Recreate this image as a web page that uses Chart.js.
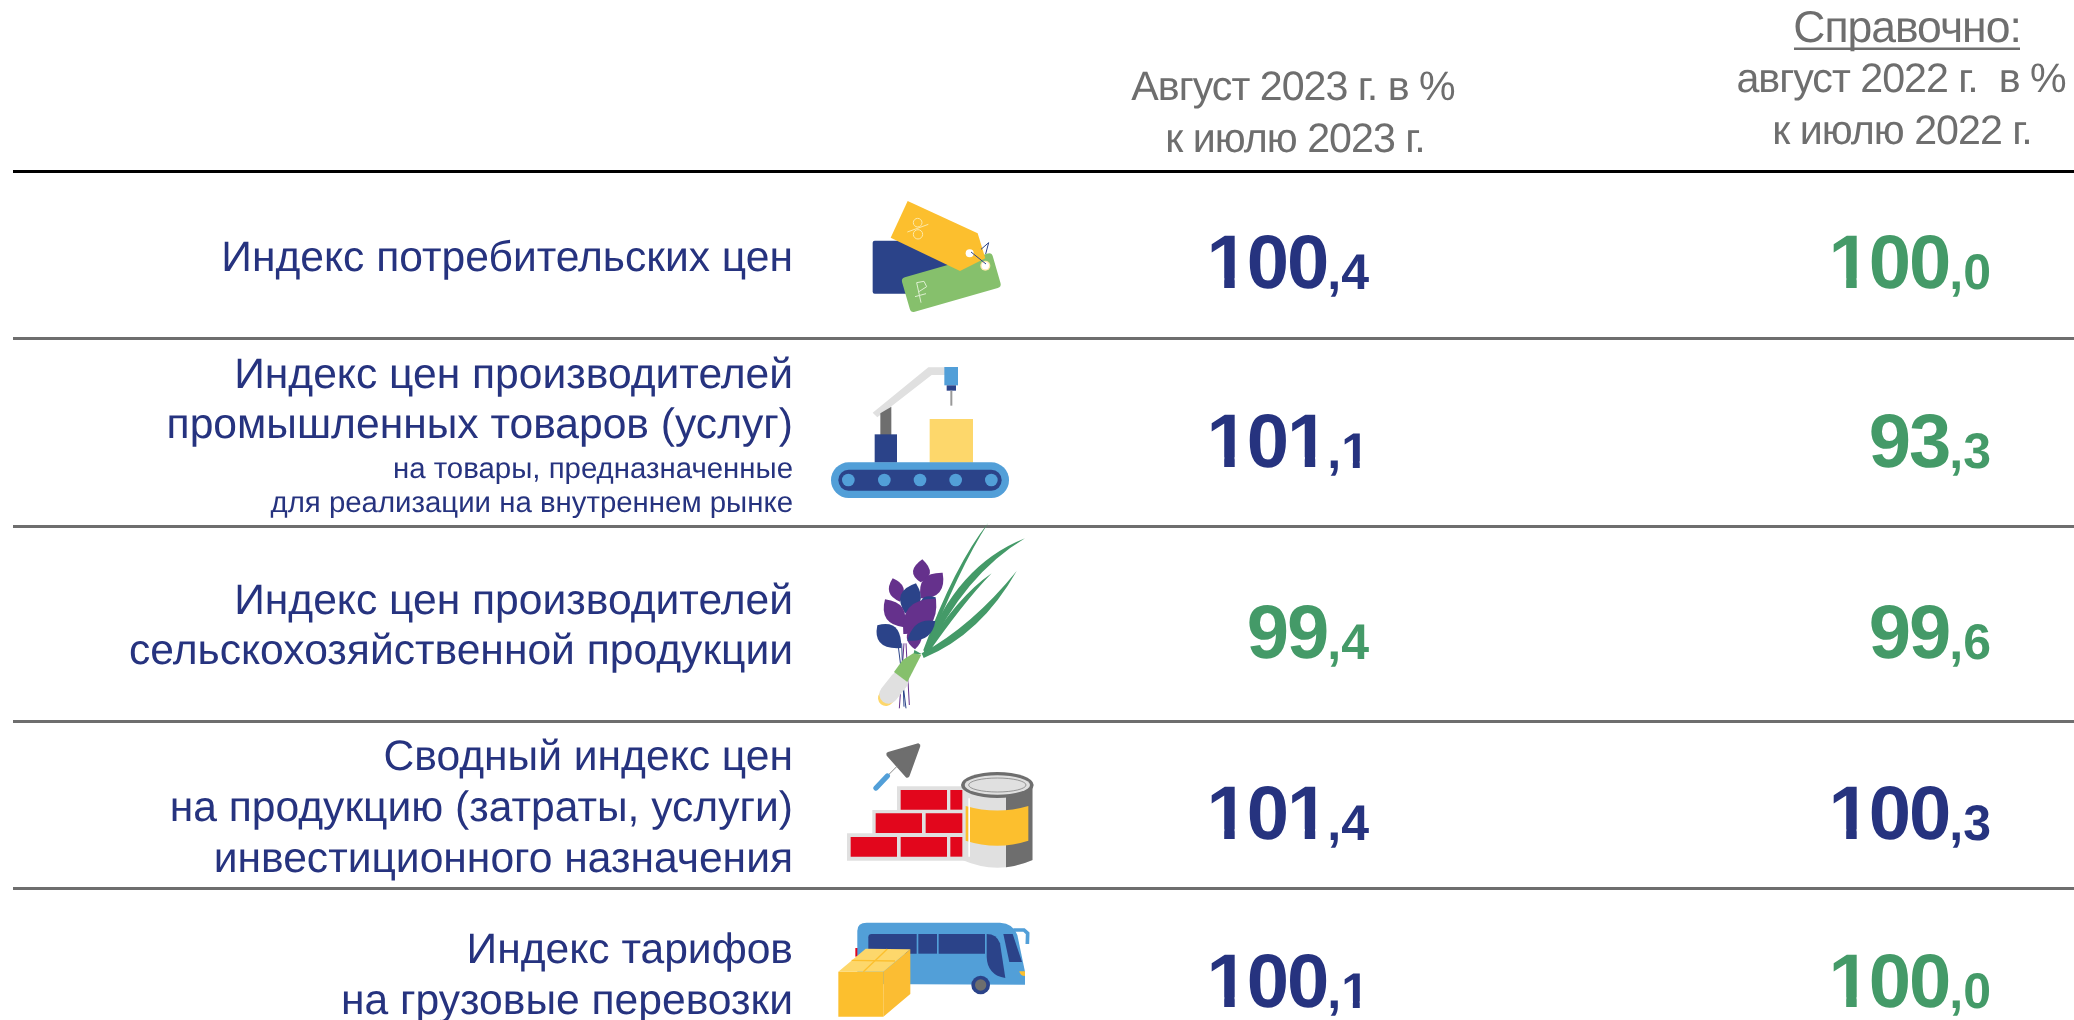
<!DOCTYPE html>
<html>
<head>
<meta charset="utf-8">
<script src="https://cdn.jsdelivr.net/npm/chart.js@4/dist/chart.umd.js"></script>
<style>
  html, body { margin: 0; background: #fff; }
  canvas { display: block; }
</style>
</head>
<body>
<canvas id="myChart" width="2074" height="1020"></canvas>
<script>
var rowLabels = [
  [['Индекс потребительских цен', 0]],
  [['Индекс цен производителей', 0], ['промышленных товаров (услуг)', 0], ['на товары, предназначенные', 1], ['для реализации на внутреннем рынке', 1]],
  [['Индекс цен производителей', 0], ['сельскохозяйственной продукции', 0]],
  [['Сводный индекс цен', 0], ['на продукцию (затраты, услуги)', 0], ['инвестиционного назначения', 0]],
  [['Индекс тарифов', 0], ['на грузовые перевозки', 0]]
];
var aug2023 = [100.4, 101.1, 99.4, 101.4, 100.1];
var aug2022 = [100.0, 93.3, 99.6, 100.3, 100.0];
var highlight2023 = [false, false, true, false, false];
var highlight2022 = [true, true, true, false, true];

// layout, in page pixels
var ruleY = [171, 338, 526.5, 721, 888];
var valueBase = [288, 467, 658, 839, 1007];
var labelBase = [[271], [388, 438, 478, 512], [614, 664], [770, 821, 872], [963, 1014]];
var colRight = [1369, 1991];

var NAVY = '#26337f', GREEN = '#449a68', GRAY = '#6e6e6e';
var I_NAVY = '#2b4389', I_BLUE = '#529fd8', I_YEL = '#fcbf2e', I_PALE = '#fdd76b', I_LIGHT = '#e0e0e0', I_GRN = '#86c06c', I_PUR = '#65318c', I_RED = '#e2061c';
var SANS = '"Liberation Sans", Arial, sans-serif';

function poly(c, pts, fill) {
  c.beginPath();
  pts.forEach(function (p, i) { i ? c.lineTo(p[0], p[1]) : c.moveTo(p[0], p[1]); });
  c.closePath();
  c.fillStyle = fill;
  c.fill();
}
function rect(c, x1, y1, x2, y2, fill, r) {
  c.beginPath();
  c.roundRect(x1, y1, x2 - x1, y2 - y1, r || 0);
  c.fillStyle = fill;
  c.fill();
}
function disc(c, x, y, r, fill) {
  c.beginPath();
  c.arc(x, y, r, 0, Math.PI * 2);
  c.fillStyle = fill;
  c.fill();
}
function stroke(c, pts, color, w) {
  c.beginPath();
  pts.forEach(function (p, i) { i ? c.lineTo(p[0], p[1]) : c.moveTo(p[0], p[1]); });
  c.strokeStyle = color;
  c.lineWidth = w;
  c.stroke();
}
// lens shape between two points, belly pulled towards the base by k
function leaf(c, x1, y1, x2, y2, b, fill, k) {
  var dx = x2 - x1, dy = y2 - y1, l = Math.hypot(dx, dy);
  var nx = -dy / l, ny = dx / l;
  var mx = x1 + dx * k, my = y1 + dy * k;
  b = b * 1.7;
  c.beginPath();
  c.moveTo(x1, y1);
  c.quadraticCurveTo(mx + nx * b, my + ny * b, x2, y2);
  c.quadraticCurveTo(mx - nx * b, my - ny * b, x1, y1);
  c.fillStyle = fill;
  c.fill();
}
function blade(c, x1, y1, cx, cy, x2, y2, w, fill) {
  c.beginPath();
  c.moveTo(x1, y1);
  c.quadraticCurveTo(cx - w, cy - w, x2, y2);
  c.quadraticCurveTo(cx + w, cy + w, x1 + 6, y1 + 14);
  c.closePath();
  c.fillStyle = fill;
  c.fill();
}

function iconTags(c) {
  rect(c, 218, 152, 460, 311, I_NAVY, 6);
  c.save();
  c.translate(303, 265);
  c.rotate(Math.atan2(187 - 265, 575 - 303));
  rect(c, 0, 0, 283, 108, I_GRN, 12);
  c.restore();
  poly(c, [[323, 33], [533, 130], [556, 205], [480, 243], [272, 143]], I_YEL);
  disc(c, 556, 227, 15, '#fde9a8');
  disc(c, 556, 227, 11, '#fff');
  disc(c, 509, 190, 12, '#fff');
  stroke(c, [[513, 186], [558, 222]], I_NAVY, 3);
  stroke(c, [[543, 178], [566, 158], [557, 192]], I_NAVY, 3);
  c.lineWidth = 3;
  c.strokeStyle = '#fde9a8';
  stroke(c, [[322, 126], [385, 103]], '#fde9a8', 3);
  c.beginPath(); c.arc(353, 98, 13, 0, Math.PI * 2); c.stroke();
  c.beginPath(); c.arc(354, 133, 14, 0, Math.PI * 2); c.stroke();
  stroke(c, [[363, 338], [350, 278], [372, 274], [380, 290], [355, 306]], '#dff0d2', 3);
  stroke(c, [[345, 320], [378, 311]], '#dff0d2', 3);
}

function iconBelt(c) {
  poly(c, [[218, 668], [385, 532], [435, 532], [435, 555], [395, 555], [232, 682]], I_LIGHT);
  poly(c, [[241, 670], [274, 650], [274, 735], [241, 735]], GRAY);
  rect(c, 224, 733, 291, 818, I_NAVY);
  rect(c, 433, 531, 474, 586, I_BLUE);
  rect(c, 440, 586, 468, 602, I_NAVY);
  rect(c, 451, 602, 457, 647, '#999');
  rect(c, 389, 687, 519, 818, I_PALE);
  rect(c, 93, 817, 627, 924, I_BLUE, 53);
  rect(c, 115, 839, 605, 902, I_NAVY, 31);
  [145, 253, 360, 467, 574].forEach(function (x) { disc(c, x, 870, 19, I_BLUE); });
}

function iconPlant(c) {
  [[[312, 400], [298, 595]], [[305, 400], [312, 590]], [[318, 400], [328, 585]], [[295, 410], [318, 595]]].forEach(function (s, i) {
    stroke(c, s, i % 2 ? I_NAVY : I_PUR, 3);
  });
  blade(c, 370, 420, 470, 170, 565, 38, 6, GREEN);
  blade(c, 372, 425, 480, 180, 675, 85, 13, GREEN);
  blade(c, 372, 425, 480, 270, 575, 190, 9, GREEN);
  blade(c, 365, 430, 530, 360, 650, 183, 13, GREEN);
  leaf(c, 367, 148, 362, 217, 30, I_PUR, 0.6);
  leaf(c, 278, 205, 300, 275, 26, I_PUR, 0.5);
  leaf(c, 428, 188, 362, 265, 36, I_PUR, 0.5);
  leaf(c, 348, 220, 315, 310, 36, I_NAVY, 0.5);
  leaf(c, 407, 262, 360, 300, 26, I_NAVY, 0.5);
  leaf(c, 255, 268, 312, 352, 34, I_PUR, 0.5);
  leaf(c, 408, 266, 310, 372, 48, I_PUR, 0.5);
  leaf(c, 340, 345, 345, 418, 26, I_PUR, 0.5);
  leaf(c, 232, 346, 304, 414, 38, I_NAVY, 0.4);
  leaf(c, 406, 333, 322, 392, 28, I_NAVY, 0.45);
  poly(c, [[343, 420], [365, 432], [340, 435]], GREEN);
  c.save();
  c.lineCap = 'round';
  stroke(c, [[258, 564], [290, 525]], I_PALE, 48);
  stroke(c, [[266, 553], [298, 512]], I_LIGHT, 56);
  c.restore();
  poly(c, [[340, 430], [364, 434], [322, 516], [282, 486], [308, 450]], I_GRN);
}

function iconBuild(c) {
  c.save();
  c.lineJoin = 'round';
  c.lineWidth = 14;
  c.strokeStyle = GRAY;
  c.beginPath();
  c.moveTo(354, 707); c.lineTo(266, 733); c.lineTo(322, 796); c.closePath();
  c.stroke();
  c.fillStyle = GRAY;
  c.fill();
  c.restore();
  stroke(c, [[292, 768], [258, 802]], '#888', 3);
  c.save();
  c.lineCap = 'round';
  stroke(c, [[262, 798], [228, 834]], I_BLUE, 16);
  c.restore();
  rect(c, 291, 829, 500, 905, I_LIGHT);
  rect(c, 217, 900, 500, 975, I_LIGHT);
  rect(c, 141, 970, 500, 1052, I_LIGHT);
  [[302, 840, 441, 899], [451, 840, 495, 899], [227, 910, 366, 969], [377, 910, 495, 969], [152, 981, 291, 1040], [302, 981, 441, 1040], [451, 981, 495, 1040]].forEach(function (b) {
    rect(c, b[0], b[1], b[2], b[3], I_RED);
  });
  // can body
  c.beginPath();
  c.moveTo(487, 825); c.lineTo(487, 1050);
  c.quadraticCurveTo(592, 1096, 698, 1050);
  c.lineTo(698, 825); c.closePath();
  c.fillStyle = I_LIGHT;
  c.fill();
  c.save();
  c.clip();
  rect(c, 618, 830, 698, 1080, GRAY);
  c.restore();
  c.beginPath();
  c.moveTo(497, 888); c.quadraticCurveTo(592, 915, 685, 888);
  c.lineTo(685, 992); c.quadraticCurveTo(592, 1022, 497, 992);
  c.closePath();
  c.fillStyle = I_YEL;
  c.fill();
  rect(c, 505, 865, 510, 1040, '#fff');
  c.beginPath(); c.ellipse(592, 825, 109, 39, 0, 0, Math.PI * 2); c.fillStyle = GRAY; c.fill();
  c.beginPath(); c.ellipse(592, 825, 98, 29, 0, 0, Math.PI * 2); c.fillStyle = I_LIGHT; c.fill();
  c.beginPath(); c.ellipse(592, 825, 86, 21, 0, 0, Math.PI * 2); c.strokeStyle = GRAY; c.lineWidth = 2; c.stroke();
}

function iconBus(c) {
  rect(c, 166, 1314, 174, 1340, I_RED);
  c.beginPath();
  c.moveTo(172, 1422); c.lineTo(172, 1262);
  c.quadraticCurveTo(172, 1238, 200, 1238);
  c.lineTo(600, 1238);
  c.quadraticCurveTo(640, 1240, 652, 1275);
  c.lineTo(675, 1385); c.lineTo(675, 1424);
  c.closePath();
  c.fillStyle = I_BLUE;
  c.fill();
  rect(c, 205, 1272, 350, 1331, I_NAVY, [10, 0, 0, 0]);
  rect(c, 355, 1272, 411, 1331, I_NAVY);
  rect(c, 416, 1272, 555, 1331, I_NAVY);
  c.beginPath();
  c.moveTo(560, 1272);
  c.quadraticCurveTo(590, 1272, 600, 1300);
  c.lineTo(616, 1404);
  c.quadraticCurveTo(562, 1395, 560, 1340);
  c.closePath();
  c.fillStyle = I_NAVY;
  c.fill();
  poly(c, [[610, 1272], [638, 1272], [666, 1356], [628, 1356]], I_NAVY);
  stroke(c, [[640, 1260], [672, 1260], [683, 1270], [682, 1302]], I_BLUE, 11);
  c.beginPath();
  c.moveTo(658, 1384); c.lineTo(675, 1384); c.lineTo(675, 1398);
  c.quadraticCurveTo(660, 1398, 658, 1384);
  c.fillStyle = I_YEL;
  c.fill();
  disc(c, 542, 1425, 28, I_NAVY);
  disc(c, 542, 1425, 17, GRAY);
  poly(c, [[115, 1385], [250, 1385], [250, 1520], [115, 1520]], I_YEL);
  poly(c, [[250, 1385], [331, 1318], [331, 1452], [250, 1520]], '#fbbd33');
  poly(c, [[115, 1385], [197, 1316], [331, 1318], [250, 1385]], I_PALE);
  stroke(c, [[155, 1351], [285, 1353]], I_YEL, 4);
  stroke(c, [[262, 1317], [190, 1385]], I_YEL, 4);
}

// icons are traced in 3x coordinates of two crops of the page
var icons = [
  [iconTags, 800, 190], [iconBelt, 800, 190], [iconPlant, 800, 510], [iconBuild, 800, 510], [iconBus, 800, 510]
];

function text(c, str, x, y, font, color, align, spacing) {
  c.font = font;
  c.fillStyle = color;
  c.textAlign = align;
  c.textBaseline = 'alphabetic';
  c.letterSpacing = (spacing || 0) + 'px';
  c.fillText(str, x, y);
  c.letterSpacing = '0px';
}

// right-aligned digits, returns the left edge. Liberation's bold 1 has a foot, the reference's has none
function digits(c, str, right, y, size, color, spacing) {
  c.font = 'bold ' + size + 'px ' + SANS;
  c.fillStyle = color;
  c.textAlign = 'left';
  c.textBaseline = 'alphabetic';
  var x = right;
  str.split('').reverse().forEach(function (ch) {
    x -= c.measureText(ch).width + spacing;
    if (ch === '1') {
      var footTop = Math.round(y - size * 0.102) - 2;
      c.save();
      c.beginPath();
      c.rect(x - 2, y - size, size, footTop - (y - size));
      c.rect(x + size * 0.233, footTop, size * 0.138, size);
      c.clip();
      c.fillText(ch, x, y);
      c.restore();
    } else {
      c.fillText(ch, x, y);
    }
  });
  return x;
}

var tablePlugin = {
  id: 'tablePlugin',
  afterDatasetsDraw: function (chart) {
    var c = chart.ctx;

    c.save();
    c.textRendering = 'geometricPrecision';
    text(c, 'Август 2023 г. в %', 1293, 100, '41.2px ' + SANS, GRAY, 'center', -1);
    text(c, 'к июлю 2023 г.', 1295, 152, '41.2px ' + SANS, GRAY, 'center', -1);
    text(c, 'Справочно:', 1907, 42, '44.5px ' + SANS, GRAY, 'center', -1);
    rect(c, 1794, 47.5, 2020, 50, GRAY);
    text(c, 'август 2022 г.  в %', 1901, 92, '41.2px ' + SANS, GRAY, 'center', -1);
    text(c, 'к июлю 2022 г.', 1902, 144, '41.2px ' + SANS, GRAY, 'center', -1);

    rowLabels.forEach(function (lines, r) {
      lines.forEach(function (l, i) {
        var font = (l[1] ? '29.4px ' : '42.6px ') + SANS;
        text(c, l[0], 793, labelBase[r][i], font, NAVY, 'right', 0);
      });
    });

    chart.data.datasets.forEach(function (ds, d) {
      chart.getDatasetMeta(d).data.forEach(function (pt, i) {
        var parts = ds.values[i].toFixed(1).split('.');
        var color = ds.highlight[i] ? GREEN : NAVY;
        var left = digits(c, ',' + parts[1], pt.x, pt.y + 1, 50, color, 0);
        digits(c, parts[0], left, pt.y, 76, color, -2);
      });
    });

    icons.forEach(function (ic) {
      c.save();
      c.translate(ic[1], ic[2]);
      c.scale(1 / 3, 1 / 3);
      ic[0](c);
      c.restore();
    });
    c.restore();
  }
};

var ctx = document.getElementById('myChart').getContext('2d');
var chart = new Chart(ctx, {
  type: 'scatter',
  data: {
    datasets: [
      {
        label: 'Август 2023 г. в % к июлю 2023 г.',
        values: aug2023,
        highlight: highlight2023,
        data: aug2023.map(function (v, i) { return { x: colRight[0], y: valueBase[i] }; }),
        pointRadius: 0
      },
      {
        label: 'август 2022 г. в % к июлю 2022 г.',
        values: aug2022,
        highlight: highlight2022,
        data: aug2022.map(function (v, i) { return { x: colRight[1], y: valueBase[i] }; }),
        pointRadius: 0
      }
    ]
  },
  options: {
    responsive: false,
    animation: false,
    layout: { padding: { left: 13, right: 0, top: 0, bottom: 0 } },
    plugins: { legend: { display: false }, tooltip: { enabled: false } },
    scales: {
      x: { type: 'linear', min: 13, max: 2074, display: false },
      y: {
        type: 'linear',
        min: 0,
        max: 1020,
        reverse: true,
        border: { display: false },
        ticks: { display: false },
        afterBuildTicks: function (axis) {
          axis.ticks = ruleY.map(function (v) { return { value: v }; });
        },
        grid: {
          drawTicks: false,
          color: function (g) { return g.index === 0 ? '#000' : GRAY; },
          lineWidth: 3
        }
      }
    }
  },
  plugins: [tablePlugin]
});
</script>
</body>
</html>
